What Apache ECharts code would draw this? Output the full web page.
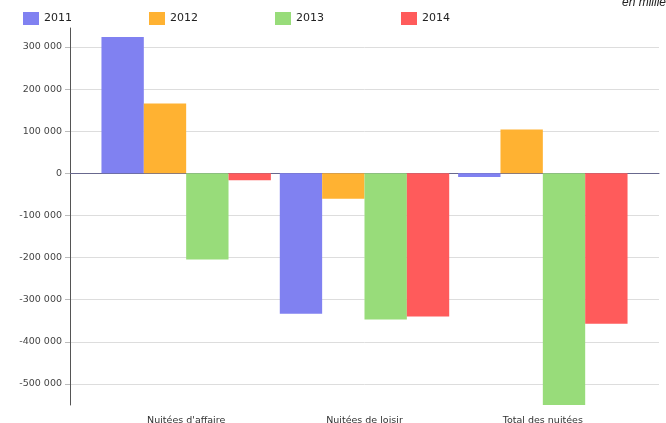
<!DOCTYPE html>
<html>
<head>
<meta charset="utf-8">
<script src="https://cdn.jsdelivr.net/npm/echarts@6/dist/echarts.min.js"></script>
<style>
  html, body { margin: 0; padding: 0; background: #fff; }
  #chart { width: 666px; height: 423px; }
</style>
</head>
<body>
<div id="chart"></div>
<script>
// Variation des nuitées par motif (en milliers)
const categories = ["Nuitées d'affaire", 'Nuitées de loisir', 'Total des nuitées'];
const years = ['2011', '2012', '2013', '2014'];
const values2011 = [323700, -333300, -8800];
const values2012 = [165600, -60100, 103800];
const values2013 = [-204300, -346800, -550000];
const values2014 = [-16600, -339700, -357000];
const yearColors = ['#8081f1', '#ffb232', '#98dc7a', '#ff5b5b'];

const yMin = -550000;
const yMax = 345000;
const fmt = v => {
  const s = Math.abs(v).toString().replace(/\B(?=(\d{3})+(?!\d))/g, ' ');
  return (v < 0 ? '-' : '') + s;
};

const seriesValues = [values2011, values2012, values2013, values2014];
const font = 'DejaVu Sans';

const chart = echarts.init(document.getElementById('chart'), null, { renderer: 'canvas' });

const legendLefts = [23, 149, 275, 401];
const legends = years.map((y, i) => ({
  data: [y],
  left: legendLefts[i],
  top: 12,
  itemWidth: 16,
  itemHeight: 13,
  itemGap: 0,
  icon: 'rect',
  padding: 0,
  textStyle: { fontFamily: font, fontSize: 11, color: '#222' }
}));

chart.setOption({
  animation: false,
  backgroundColor: '#fff',
  legend: legends,
  graphic: [{
    type: 'text',
    left: 622,
    top: -3,
    style: { text: 'en milliers', font: 'italic 12px "Liberation Sans"', fill: '#222' }
  }],
  grid: [
    // frame: y axis, grid lines and the zero line
    { left: 70, right: 7, top: 28, bottom: 18, outerBoundsMode: 'none' },
    // bars
    { left: 97, right: 34, top: 28, bottom: 18, outerBoundsMode: 'none' }
  ],
  xAxis: [
    {
      gridIndex: 0, type: 'value', min: 0, max: 1,
      axisLine: { show: true, onZero: true, lineStyle: { color: '#68688e', width: 1 } },
      axisTick: { show: false }, axisLabel: { show: false }, splitLine: { show: false }
    },
    {
      gridIndex: 1, type: 'category', data: categories,
      axisLine: { show: false, onZero: false }, axisTick: { show: false },
      axisLabel: { fontFamily: font, fontSize: 9.5, color: '#333', margin: 11 }
    }
  ],
  yAxis: [
    {
      gridIndex: 0, type: 'value', min: yMin, max: yMax,
      minInterval: 100000, maxInterval: 100000, splitNumber: 9,
      axisLine: { show: true, lineStyle: { color: '#555', width: 1 } },
      axisTick: { show: true, length: 5, lineStyle: { color: '#bbb' } },
      axisLabel: {
        fontFamily: font, fontSize: 9.5, color: '#444', margin: 8,
        showMinLabel: false, showMaxLabel: false,
        formatter: fmt
      },
      splitLine: { show: true, showMinLine: false, showMaxLine: false, lineStyle: { color: '#ddd', width: 1 } }
    },
    {
      gridIndex: 1, type: 'value', min: yMin, max: yMax, show: false
    }
  ],
  series: years.map((y, i) => ({
    name: y,
    type: 'bar',
    xAxisIndex: 1,
    yAxisIndex: 1,
    data: seriesValues[i],
    barGap: '0%',
    barCategoryGap: '5%',
    itemStyle: { color: yearColors[i] }
  }))
});
</script>
</body>
</html>
